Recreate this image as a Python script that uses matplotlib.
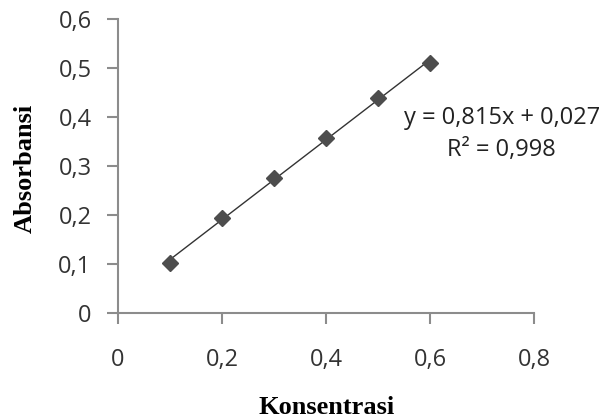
import matplotlib.pyplot as plt
import numpy as np

# data
konsentrasi = [0.1, 0.2, 0.3, 0.4, 0.5, 0.6]
absorbansi = [0.102, 0.194, 0.276, 0.357, 0.438, 0.510]
x_ticks = [0, 0.2, 0.4, 0.6, 0.8]
y_ticks = [0, 0.1, 0.2, 0.3, 0.4, 0.5, 0.6]
eq_text = "y = 0,815x + 0,027"
r2_text = "R² = 0,998"

fig = plt.figure(figsize=(6.08, 4.2), dpi=100)
ax = fig.add_axes([118/608, 1-313/420, (534-118)/608, (313-19)/420])

# trendline from fit
k, b = np.polyfit(konsentrasi, absorbansi, 1)
xs = np.array([konsentrasi[0], konsentrasi[-1]])
ax.plot(xs, k*xs + b, color='#333333', lw=1, zorder=2)
ax.plot(konsentrasi, absorbansi, 'D', color='#4d4d4d', markersize=8, zorder=3)

ax.set_xlim(0, 0.8)
ax.set_ylim(0, 0.6)
ax.set_xticks(x_ticks)
ax.set_yticks(y_ticks)
fmt = lambda v: ('%g' % v).replace('.', ',')
ax.set_xticklabels([fmt(v) for v in x_ticks], fontfamily='Open Sans', fontsize=17, color='#333333')
ax.set_yticklabels([fmt(v) for v in y_ticks], fontfamily='Open Sans', fontsize=17, color='#333333')

for s in ['top', 'right']:
    ax.spines[s].set_visible(False)
for s in ['left', 'bottom']:
    ax.spines[s].set_color('#8c8c8c')
    ax.spines[s].set_linewidth(1.5)
ax.tick_params(axis='x', length=8, width=1.5, color='#8c8c8c', pad=17)
ax.tick_params(axis='y', length=8, width=1.5, color='#8c8c8c', pad=11)

ax.text(0.738, 0.398, eq_text, ha='center', va='center', fontfamily='Open Sans', fontsize=17, color='#222222')
ax.text(0.738, 0.333, r2_text, ha='center', va='center', fontfamily='Open Sans', fontsize=17, color='#222222')

fig.text(25/608, 1-168/420, 'Absorbansi', rotation=90, ha='center', va='center',
         fontfamily='Liberation Serif', fontweight='bold', fontsize=19)
fig.text(327/608, 1-407/420, 'Konsentrasi', ha='center', va='center',
         fontfamily='Liberation Serif', fontweight='bold', fontsize=19)

fig.savefig('out.png', dpi=100)
